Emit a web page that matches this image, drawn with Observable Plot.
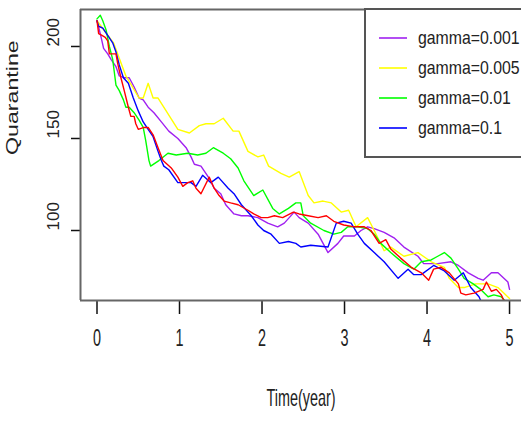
<!DOCTYPE html>
<html><head><meta charset="utf-8">
<script src="https://cdn.jsdelivr.net/npm/d3@7"></script>
<script src="https://cdn.jsdelivr.net/npm/@observablehq/plot@0.6"></script>
<style>body{margin:0;background:#fff;overflow:hidden} svg{display:block}</style>
</head><body><div id="chart"></div>
<script>
const seriesNames = ["gamma=0.001","gamma=0.005","gamma=0.01","gamma=0.1"];
const seriesColors = ["#A020F0","#FFFF00","#00FF00","#0000FF","#FF0000"];
const xTicks = [0,1,2,3,4,5];
const yTicks = [100,150,200];
const xDomain = [-0.2, 5.145];
const yDomain = [61.96, 220.1];

const purpleTime = [0,0.05,0.08,0.13,0.17,0.23,0.27,0.33,0.39,0.45,0.51,0.56,0.62,0.69,0.78,0.87,0.98,1.08,1.14,1.18,1.26,1.35,1.42,1.50,1.56,1.66,1.75,1.83,1.95,2.07,2.19,2.27,2.39,2.45,2.56,2.68,2.80,2.92,2.99,3.12,3.20,3.28,3.36,3.48,3.60,3.72,3.89,3.96,4.13,4.29,4.38,4.50,4.62,4.68,4.78,4.86,4.98,5.0];
const purpleQ = [214,205,199,196,193,189,184,183,183,178,172,171,167,164,159,154,150,145,140,136,135,129,123,120,114,109,108,108,107,104,102,104,110,107,104,98,88,93,97,97,100,102,101,99,96,91,86,82,82,83,81,77,74,73,77,77,72,68];

const yellowTime = [0,0.2,0.35,0.51,0.56,0.62,0.68,0.74,0.98,1.12,1.24,1.32,1.42,1.53,1.65,1.72,1.83,1.95,2.02,2.08,2.23,2.33,2.45,2.56,2.63,2.74,2.84,2.96,3.05,3.14,3.28,3.36,3.48,3.56,3.72,3.89,4.05,4.21,4.27,4.38,4.45,4.59,4.74,4.86,4.93,5.0];
const yellowQ = [214,202,184,172,172,180,172,172,155,153,157,158,158,161,154,154,143,140,141,135,131,129,132,119,115,116,115,110,111,102,107,100,89,91,86,88,83,80,74,69,69,71,71,69,66,63];

const greenTime = [0,0.04,0.07,0.11,0.15,0.19,0.21,0.23,0.27,0.32,0.35,0.39,0.45,0.51,0.56,0.59,0.63,0.65,0.75,0.86,0.96,1.10,1.22,1.32,1.41,1.53,1.62,1.71,1.78,1.90,2.01,2.13,2.21,2.32,2.41,2.47,2.50,2.59,2.75,2.87,2.96,3.04,3.16,3.28,3.36,3.44,3.56,3.72,3.84,3.93,4.05,4.13,4.21,4.29,4.38,4.45,4.56,4.65,4.74,4.81,4.90,4.96];
const greenQ = [215,217,214,209,200,193,186,179,176,171,167,167,164,160,156,149,138,135,138,142,141,142,141,142,145,142,139,134,127,119,122,112,109,112,115,115,108,104,100,98,99,102,102,101,98,93,88,82,79,83,84,86,88,85,79,74,71,68,64,65,64,61];

const blueTime = [0,0.02,0.07,0.13,0.19,0.23,0.27,0.32,0.38,0.44,0.50,0.56,0.62,0.68,0.74,0.78,0.81,0.87,0.98,1.05,1.14,1.20,1.28,1.38,1.47,1.59,1.66,1.75,1.87,1.95,2.02,2.11,2.21,2.32,2.41,2.47,2.59,2.80,2.90,2.99,3.08,3.16,3.24,3.36,3.48,3.65,3.77,3.84,3.93,4.08,4.21,4.33,4.44,4.53,4.63,4.65];
const blueQ = [214,211,210,206,202,197,190,183,180,172,165,159,155,151,143,138,135,133,126,126,126,124,130,126,129,123,120,114,108,103,100,98,93,94,93,91,92,91,104,105,104,98,93,88,83,74,79,76,76,81,78,73,77,69,64,62];

const redTime = [0,0.02,0.06,0.10,0.13,0.15,0.19,0.23,0.25,0.29,0.33,0.38,0.41,0.45,0.47,0.50,0.57,0.62,0.68,0.74,0.80,0.90,0.98,1.04,1.10,1.16,1.20,1.26,1.36,1.42,1.48,1.54,1.62,1.71,1.83,1.90,1.99,2.07,2.15,2.25,2.38,2.45,2.56,2.68,2.78,2.87,2.99,3.12,3.24,3.32,3.42,3.50,3.56,3.68,3.81,3.93,4.02,4.08,4.17,4.27,4.38,4.41,4.47,4.57,4.68,4.72,4.78,4.84,4.90,4.93];
const redQ = [214,207,206,205,203,196,196,196,191,183,176,167,162,162,158,155,156,156,152,145,138,134,129,124,126,127,123,120,129,123,119,116,115,114,111,109,107,107,108,107,110,109,108,107,108,105,103,102,102,100,93,95,90,85,80,77,73,79,80,77,71,66,65,66,68,72,67,68,65,62];

const series = [
  [purpleTime, purpleQ], [yellowTime, yellowQ], [greenTime, greenQ], [blueTime, blueQ], [redTime, redQ]
];

const lineMarks = series.map(([t, q], i) =>
  Plot.line(q, {x: t, y: d => d, stroke: seriesColors[i], strokeWidth: 1.4, clip: true})
);

const chart = Plot.plot({
  width: 521, height: 421,
  marginLeft: 80, marginRight: 0, marginTop: 9, marginBottom: 121,
  style: {background: "#fff", fontFamily: "'Liberation Sans', Arial, sans-serif"},
  x: {domain: xDomain},
  y: {domain: yDomain},
  marks: [
    ...lineMarks,
    Plot.axisX(xTicks, {tickSize: 14, text: null, stroke: "#111", strokeWidth: 1.5}),
    Plot.axisY(yTicks, {tickSize: 9, text: null, stroke: "#111", strokeWidth: 1.5}),
    Plot.ruleX([xDomain[0]], {stroke: "#666", strokeWidth: 2}),
    Plot.ruleY(yDomain, {stroke: "#666", strokeWidth: 2}),
    Plot.text(xTicks, {x: d => d, frameAnchor: "bottom", dy: 45, fontSize: 24, fill: "#222", lineAnchor: "middle", ariaLabel: () => "xticklab"}),
    Plot.text(["Time(year)"], {frameAnchor: "bottom", dy: 105, fontSize: 24, fill: "#222", lineAnchor: "middle", ariaLabel: () => "xlab"}),
    Plot.text(yTicks, {y: d => d, frameAnchor: "left", dx: -27, rotate: -90, fontSize: 17, fill: "#222", lineAnchor: "middle", ariaLabel: () => "yticklab"}),
    Plot.text(["Quarantine"], {frameAnchor: "left", dx: -63, rotate: -90, fontSize: 16, fill: "#222", lineAnchor: "middle", ariaLabel: () => "ylab"})
  ]
});

document.getElementById("chart").appendChild(chart);
const svg = d3.select(chart);

function squeeze(sel, sx, sy) {
  sel.each(function() {
    const t = d3.select(this);
    const x = +t.attr("x") || 0, y = +t.attr("y") || 0;
    const tr = t.attr("transform") || "";
    t.attr("x", null).attr("y", null)
     .attr("transform", `${tr} translate(${x},${y}) scale(${sx},${sy})`);
  });
}
squeeze(svg.selectAll('text[aria-label="xticklab"]'), 0.6, 1);
squeeze(svg.selectAll('text[aria-label="xlab"]'), 0.6, 1);
squeeze(svg.selectAll('text[aria-label="ylab"]'), 1.45, 1);

// legend
const lg = svg.append("g").attr("text-anchor", "start");
lg.append("rect").attr("x", 365).attr("y", 9).attr("width", 170).attr("height", 148)
  .attr("fill", "#fff").attr("stroke", "#555").attr("stroke-width", 2);
seriesNames.forEach((name, i) => {
  const cy = 38 + i * 30;
  lg.append("line").attr("x1", 379).attr("x2", 407).attr("y1", cy).attr("y2", cy)
    .attr("stroke", seriesColors[i]).attr("stroke-width", 1.6);
  lg.append("text").attr("transform", `translate(418,${cy}) scale(0.88,1)`)
    .attr("dy", "0.35em").attr("font-size", 18).attr("fill", "#222").text(name);
});
</script>
</body></html>
